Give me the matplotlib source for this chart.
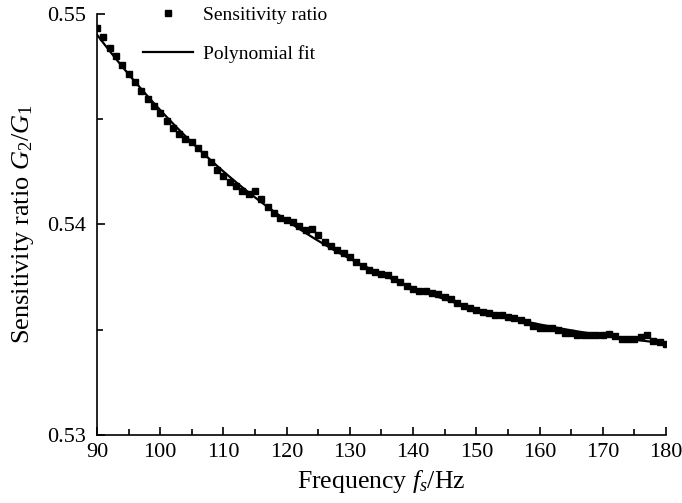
import numpy as np
import matplotlib
matplotlib.use('Agg')
import matplotlib.pyplot as plt
from matplotlib.ticker import MultipleLocator

plt.rcParams['font.family'] = 'Liberation Serif'
plt.rcParams['mathtext.fontset'] = 'custom'
plt.rcParams['mathtext.rm'] = 'Liberation Serif'
plt.rcParams['mathtext.it'] = 'Liberation Serif:italic'

# measured sensitivity ratio, one point per Hz from 90 to 180
freq = np.arange(90, 181)
ratio = [
    0.54932, 0.54889, 0.54837, 0.54800, 0.54758, 0.54715, 0.54677, 0.54636, 0.54598, 0.54563,
    0.54528, 0.54493, 0.54457, 0.54428, 0.54405, 0.54393, 0.54362, 0.54333, 0.54298, 0.54259,
    0.54230, 0.54203, 0.54183, 0.54159, 0.54145, 0.54159, 0.54120, 0.54085, 0.54053, 0.54029,
    0.54021, 0.54010, 0.53994, 0.53974, 0.53979, 0.53950, 0.53918, 0.53899, 0.53879, 0.53863,
    0.53847, 0.53820, 0.53804, 0.53784, 0.53773, 0.53765, 0.53760, 0.53740, 0.53725, 0.53708,
    0.53695, 0.53685, 0.53684, 0.53676, 0.53670, 0.53657, 0.53645, 0.53626, 0.53613, 0.53603,
    0.53594, 0.53583, 0.53578, 0.53570, 0.53569, 0.53562, 0.53554, 0.53546, 0.53535, 0.53518,
    0.53507, 0.53507, 0.53507, 0.53499, 0.53486, 0.53483, 0.53474, 0.53474, 0.53475, 0.53475,
    0.53477, 0.53478, 0.53472, 0.53455, 0.53456, 0.53456, 0.53467, 0.53475, 0.53448, 0.53443,
    0.53431,
]
ratio = np.array(ratio)

# polynomial fit of the measured ratio
coef = np.polyfit(freq, ratio, 3)
fit = np.polyval(coef, freq)

fig = plt.figure(figsize=(6.82, 5.03), dpi=100)
ax = fig.add_axes([0.1422, 0.1352, 0.8343, 0.837])

ax.plot(freq, ratio, 's', color='black', markersize=4, label='Sensitivity ratio', zorder=2)
ax.plot(freq, fit, '-', color='black', linewidth=1.6, label='Polynomial fit', zorder=3)

ax.set_xlim(90, 180)
ax.set_ylim(0.53, 0.55)
ax.xaxis.set_major_locator(MultipleLocator(10))
ax.xaxis.set_minor_locator(MultipleLocator(5))
ax.yaxis.set_major_locator(MultipleLocator(0.01))
ax.yaxis.set_minor_locator(MultipleLocator(0.005))
ax.tick_params(which='both', direction='in', labelsize=16, width=1.2)
ax.tick_params(which='major', length=6)
ax.tick_params(axis='y', pad=8)
ax.tick_params(axis='x', pad=6)
ax.tick_params(which='minor', length=4)
ax.spines['top'].set_visible(False)
ax.spines['right'].set_visible(False)
for s in ['left', 'bottom']:
    ax.spines[s].set_linewidth(1.2)

ax.set_xlabel('Frequency $f_s$/Hz', fontsize=18.5, labelpad=4)
ax.set_ylabel('Sensitivity ratio $G_2/G_1$', fontsize=19, labelpad=8)

ax.legend(loc='upper left', bbox_to_anchor=(0.05, 1.06), frameon=False, fontsize=14,
          handlelength=2.6, handletextpad=0.5, labelspacing=1.1)

fig.savefig('out.png', dpi=100)
